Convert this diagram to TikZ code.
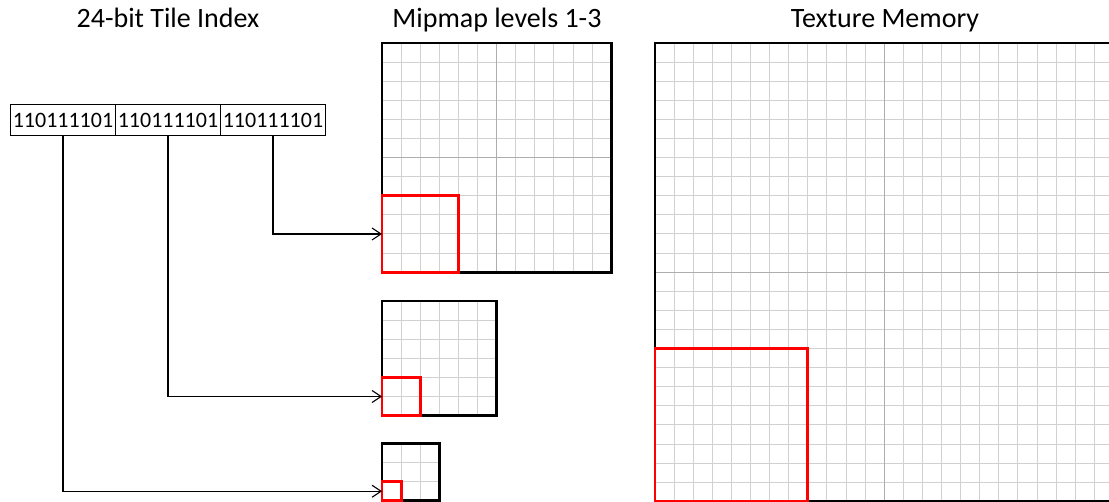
\documentclass[tikz,border=0pt]{standalone}
\usepackage{fontspec}
\setmainfont{Carlito}
\usetikzlibrary{positioning, arrows.meta}

% size of one grid cell (pt)
\newcommand{\cell}{19.1}
% square of #3 x #3 cells, top left corner at (#1,#2)
\newcommand{\cellgrid}[3]{%
  \pgfmathtruncatemacro{\ncells}{#3-1}
  \foreach \k in {1,...,\ncells}{
    \draw[gridline] (#1+\k*\cell, #2) -- ++(0, #3*\cell);
    \draw[gridline] (#1, #2+\k*\cell) -- ++(#3*\cell, 0);
  }
}

\begin{document}
\begin{tikzpicture}[
    x=1pt, y=-1pt,
    node distance=0pt,
    title/.style = {anchor=base, inner sep=0pt, font=\fontsize{28}{30}\selectfont},
    bitbox/.style = {rectangle, draw, line width=1pt, outer sep=0pt, inner sep=0pt, minimum width=105pt, minimum height=31pt, font=\fontsize{22}{23}\selectfont},
    gridline/.style = {draw=black!18, line width=1pt},
    midline/.style = {draw=black!32, line width=1pt},
    frame/.style = {draw, line width=2.8pt},
    selbox/.style = {rectangle, draw=red, line width=2.8pt, outer sep=0pt, inner sep=0pt, anchor=south west},
    arrow/.style = {-{Straight Barb[length=9pt, width=12pt]}, line width=1.1pt}
]
\clip (0,0) rectangle (1109,502);

% Titles
\node[title] (titleIndex) at (168,28) {24-bit Tile Index};
\node[title] (titleMip) at (497,28) {Mipmap levels 1-3};
\node[title] (titleTex) at (885,28) {Texture Memory};

% Tile index, three groups of bits
\node[bitbox] (bitsA) at (63,120) {110111101};
\node[bitbox, right=of bitsA] (bitsB) {110111101};
\node[bitbox, right=of bitsB] (bitsC) {110111101};

% Mipmap levels
\cellgrid{382}{43}{12}
\draw[midline] (382+6*\cell,43) -- ++(0,12*\cell);
\draw[midline] (382,43+6*\cell) -- ++(12*\cell,0);
\draw[frame] (382,43) rectangle ++(12*\cell,12*\cell);
\cellgrid{382}{301}{6}
\draw[frame] (382,301) rectangle ++(6*\cell,6*\cell);
\cellgrid{382}{443.5}{3}
\draw[frame] (382,443.5) rectangle ++(3*\cell,3*\cell);

% Texture memory
\cellgrid{655}{43}{24}
\draw[midline] (655+12*\cell,43) -- ++(0,24*\cell);
\draw[midline] (655,43+12*\cell) -- ++(24*\cell,0);
\draw[frame] (655,43) rectangle ++(24*\cell,24*\cell);

% Selected tiles
\node[selbox, minimum size=4*\cell] (selA) at (382,43+12*\cell) {};
\node[selbox, minimum size=2*\cell] (selB) at (382,301+6*\cell) {};
\node[selbox, minimum size=\cell] (selC) at (382,443.5+3*\cell) {};
\node[selbox, minimum size=8*\cell] (selTex) at (655,43+24*\cell) {};

% Arrows
\draw[arrow] (bitsC.south) |- (selA.west);
\draw[arrow] (bitsB.south) |- (selB.west);
\draw[arrow] (bitsA.south) |- (selC.west);

\end{tikzpicture}
\end{document}
